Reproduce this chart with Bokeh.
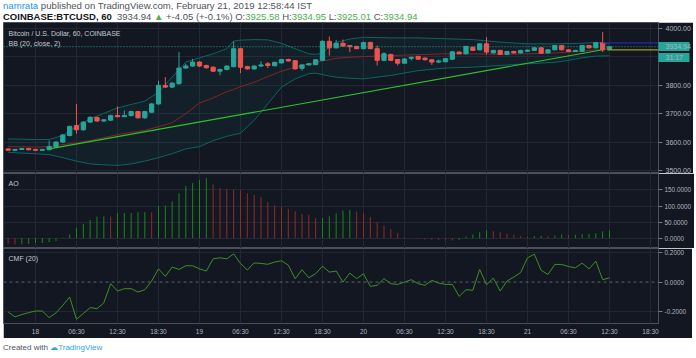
from bokeh.plotting import figure
from bokeh.models import (Range1d, FixedTicker, PrintfTickFormatter, Label, Span, Div, Grid,
                          AllLabels)
from bokeh.layouts import column
from bokeh.embed import file_html
from bokeh.resources import INLINE

# ---------------- data ----------------
BAR_INDEX = list(range(-4, 85))   # hourly bars, 0 = 18 Feb 00:30 IST
OPEN = [3576, 3571, 3574, 3577, 3574, 3571, 3573, 3583, 3600, 3623, 3658, 3643, 3670, 3686, 3674, 3677,
        3693, 3689, 3693, 3707, 3685, 3705, 3734, 3799, 3793, 3805, 3860, 3867, 3881, 3869, 3863, 3849,
        3855, 3865, 3928, 3865, 3857, 3867, 3875, 3868, 3878, 3890, 3886, 3859, 3871, 3872, 3887, 3954,
        3931, 3947, 3939, 3936, 3928, 3950, 3928, 3887, 3908, 3890, 3877, 3894, 3901, 3895, 3889, 3881,
        3882, 3891, 3916, 3910, 3933, 3924, 3945, 3913, 3922, 3908, 3918, 3913, 3919, 3922, 3931, 3913,
        3924, 3939, 3924, 3918, 3919, 3939, 3931, 3949, 3925.58]
HIGH = [3578, 3576, 3579, 3579, 3576, 3576, 3605, 3603, 3628, 3658, 3734, 3673, 3690, 3689, 3681, 3696,
        3725, 3711, 3710, 3710, 3709, 3737, 3816, 3828, 3810, 3916, 3875, 3892, 3884, 3872, 3866, 3858,
        3869, 3954, 3931, 3868, 3869, 3884, 3881, 3882, 3892, 3893, 3888, 3873, 3877, 3891, 3957, 3971,
        3959, 3960, 3941, 3938, 3952, 3952, 3939, 3916, 3910, 3892, 3894, 3900, 3903, 3897, 3891, 3890,
        3895, 3919, 3918, 3938, 3935, 3947, 3968, 3924, 3924, 3920, 3921, 3924, 3925, 3933, 3933, 3926,
        3941, 3941, 3926, 3924, 3941, 3941, 3951, 3986, 3934.95]
LOW = [3569, 3569, 3572, 3571, 3569, 3570, 3571, 3580, 3597, 3620, 3629, 3640, 3667, 3671, 3670, 3674,
       3687, 3688, 3690, 3683, 3682, 3702, 3730, 3790, 3790, 3802, 3857, 3864, 3864, 3858, 3846, 3834,
       3852, 3862, 3842, 3854, 3854, 3865, 3860, 3866, 3876, 3883, 3855, 3851, 3869, 3870, 3885, 3904,
       3929, 3935, 3916, 3926, 3926, 3926, 3869, 3884, 3885, 3869, 3875, 3887, 3889, 3887, 3871, 3877,
       3880, 3889, 3908, 3908, 3920, 3922, 3908, 3911, 3906, 3906, 3911, 3911, 3917, 3920, 3910, 3911,
       3922, 3922, 3916, 3917, 3917, 3929, 3929, 3916, 3925.01]
CLOSE = [3571, 3574, 3577, 3573, 3571, 3574, 3584, 3600, 3625, 3655, 3643, 3670, 3687, 3674, 3678, 3693,
         3689, 3693, 3707, 3685, 3707, 3734, 3799, 3793, 3807, 3860, 3867, 3881, 3867, 3861, 3849, 3855,
         3867, 3928, 3863, 3857, 3867, 3871, 3869, 3880, 3890, 3885, 3857, 3871, 3875, 3889, 3954, 3931,
         3947, 3937, 3935, 3928, 3950, 3928, 3887, 3910, 3887, 3877, 3892, 3898, 3891, 3889, 3881, 3885,
         3893, 3917, 3910, 3936, 3922, 3945, 3916, 3922, 3908, 3918, 3913, 3922, 3923, 3931, 3912, 3924,
         3939, 3924, 3918, 3922, 3939, 3931, 3949, 3924, 3934.94]

BB_INDEX = [-4, -2, 0, 2, 4, 6, 8, 10, 12, 14, 16, 18, 20, 22, 24, 26, 28, 29, 30, 32, 34, 36, 38, 40,
            41, 42, 43, 44, 46, 48, 52, 56, 60, 64, 68, 72, 76, 78, 80, 82, 84]
BB_UPPER = [3611, 3610, 3609, 3609, 3623, 3655, 3682, 3701, 3720, 3732, 3744, 3775, 3828, 3881, 3896,
            3910, 3928, 3955, 3958, 3960, 3959, 3947, 3928, 3910, 3908, 3912, 3935, 3950, 3962, 3968,
            3966, 3966, 3963, 3960, 3951, 3945, 3945, 3946, 3947, 3950, 3945]
BB_BASIS = [3584, 3583, 3582, 3584, 3591, 3597, 3605, 3615, 3626, 3634, 3641, 3654, 3668, 3700, 3737,
            3755, 3777, 3785, 3794, 3810, 3830, 3849, 3863, 3875, 3880, 3885, 3889, 3894, 3898, 3900,
            3904, 3907, 3910, 3910, 3908, 3910, 3913, 3916, 3919, 3924, 3927]
BB_LOWER = [3564, 3561, 3559, 3556, 3545, 3533, 3523, 3520, 3518, 3523, 3533, 3545, 3559, 3576, 3584,
            3605, 3620, 3626, 3631, 3676, 3734, 3793, 3822, 3840, 3842, 3837, 3832, 3828, 3824, 3822,
            3834, 3851, 3860, 3863, 3869, 3875, 3880, 3887, 3896, 3902, 3903]

TREND_X = [2, 83]            # drawn trend line
TREND_Y = [3576, 3924]
LEVEL_X = [83, 83.7]         # horizontal drawing rays
LEVEL_Y = [3948.6, 3924.0]

AO = [-17.6, -19.7, -19.0, -17.6, -15.5, -15.0, -12.4, -9.3, 1.5, 11.4, 32.0, 44.5, 57.0, 67.0, 68.3,
      67.5, 77.6, 78.0, 78.5, 80.7, 81.5, 80.0, 99.4, 101.4, 113.9, 139.8, 161.5, 171.8, 181.2, 186.3,
      166.7, 156.3, 153.2, 151.1, 150.0, 139.8, 134.6, 127.3, 111.8, 101.4, 98.3, 91.1, 83.9, 75.6, 72.5,
      62.1, 63.0, 68.3, 77.6, 86.0, 88.0, 82.8, 77.6, 65.2, 49.7, 39.3, 29.0, 16.6, 3.0, -1.0, -2.0,
      -4.0, -4.5, -5.2, -5.5, -7.0, -5.0, 5.0, 11.4, 18.6, 23.8, 21.7, 18.6, 13.5, 10.4, 6.2, 4.0, 6.0,
      7.2, 6.2, 8.3, 11.4, 10.4, 10.8, 12.4, 12.6, 15.5, 21.7, 23.8]

CMF = [-0.203, -0.237, -0.221, -0.208, -0.197, -0.197, -0.242, -0.210, -0.158, -0.102, -0.253, -0.214,
       -0.174, -0.181, -0.142, -0.011, -0.061, -0.045, -0.045, -0.068, -0.052, 0.007, 0.090, 0.039,
       0.102, 0.086, 0.111, 0.111, 0.090, 0.075, 0.158, 0.165, 0.158, 0.192, 0.126, 0.082, 0.130,
       0.127, 0.121, 0.136, 0.145, 0.115, 0.023, 0.084, 0.029, 0.057, 0.108, 0.068, 0.075, 0.000,
       0.061, 0.023, 0.057, -0.029, -0.022, 0.023, -0.011, -0.016, 0.000, 0.016, -0.011, -0.022, 0.012,
       -0.007, -0.016, -0.016, -0.097, -0.052, -0.056, 0.086, -0.018, 0.027, -0.061, 0.007, 0.034,
       0.065, 0.165, 0.190, 0.080, 0.052, 0.120, 0.120, 0.106, 0.097, 0.129, 0.090, 0.142, 0.016, 0.029]

X_TICKS = [0, 6, 12, 18, 24, 30, 36, 42, 48, 54, 60, 66, 72, 78, 84, 90]
X_LABELS = ["18", "06:30", "12:30", "18:30", "19", "06:30", "12:30", "18:30",
            "20", "06:30", "12:30", "18:30", "21", "06:30", "12:30", "18:30"]
PRICE_TICKS = [3500, 3600, 3700, 3800, 3900, 4000]
PRICE_LABELLED = [3500, 3600, 3700, 3800, 4000]      # 3900 label hidden under the countdown tag
TAG_TICKS = [CLOSE[-1], 3898.1]                       # last price tag, countdown tag
TAG_LABELS = ["%.2f" % CLOSE[-1], "31:17"]
AO_TICKS = [0, 50, 100, 150]
CMF_TICKS = [-0.2, 0.0, 0.2]
CMF_GRID = [-0.2, 0.2]

# ---------------- style / layout ----------------
BG = "#131722"
GRID = "#232733"
SEP = "#4c505b"
AXT = "#b2b5be"
PANE_TXT = "#c5c8d0"
UP = "#26a69a"
DN = "#ef5350"
FONT = "Liberation Sans"

XMIN, XMAX = -4.68, 91.17
FW = 655
RB = 34
H_HEAD, H_MAIN, H_AO, H_CMF, H_TAX, H_FOOT = 22, 151, 75, 75, 15, 20
P_RANGE = (3489.5, 4020.0)
AO_RANGE = (-32.0, 201.0)
CMF_RANGE = (-0.282, 0.2285)
DPX = (XMAX - XMIN) / FW
MARGIN = (0, 0, 0, 3)
TAG_LEN = 31

xr = Range1d(XMIN, XMAX)


def make_fig(h, yr, bottom=0, xaxis=False, standoff=3):
    p = figure(frame_width=FW, frame_height=h, x_range=xr, y_range=Range1d(*yr),
               output_backend="svg", toolbar_location=None, title=None, margin=MARGIN,
               x_axis_location=("below" if xaxis else None), y_axis_location="right",
               min_border_left=0, min_border_right=RB, min_border_top=0, min_border_bottom=bottom,
               background_fill_color=BG, border_fill_color=BG, outline_line_color=SEP,
               outline_line_width=1)
    p.grid.visible = False
    p.add_layout(Grid(dimension=0, ticker=FixedTicker(ticks=X_TICKS), grid_line_color=GRID))
    ax = p.yaxis[0]
    ax.axis_line_color = None
    ax.major_tick_out = 4
    ax.major_tick_in = 0
    ax.minor_tick_line_color = None
    ax.major_tick_line_color = "#787b86"
    ax.major_label_text_color = AXT
    ax.major_label_text_font = FONT
    ax.major_label_standoff = standoff
    ax.major_label_policy = AllLabels()
    return p


def pane_label(p, text, yr, h, px_down, size="7px"):
    dpy = (yr[1] - yr[0]) / h
    p.add_layout(Label(x=XMIN + 5 * DPX, y=yr[1] - px_down * dpy, text=text, text_font=FONT,
                       text_font_size=size, text_color=PANE_TXT, text_baseline="middle"))


# ---- main price pane ----
p1 = make_fig(H_MAIN, P_RANGE)
pax = p1.yaxis[0]
# tags drawn as thick teal minor ticks, their texts as tick labels
pax.ticker = FixedTicker(ticks=PRICE_LABELLED + TAG_TICKS, minor_ticks=TAG_TICKS)
pax.formatter = PrintfTickFormatter(format="%.2f")
pax.major_label_overrides = {TAG_TICKS[1]: TAG_LABELS[1]}
pax.major_label_text_font_size = "7px"
pax.minor_tick_line_color = UP
pax.minor_tick_line_width = 9
pax.minor_tick_in = 0
pax.minor_tick_out = TAG_LEN
pax.major_label_standoff = 7 - TAG_LEN     # labels sit 7px right of the axis line
p1.add_layout(Grid(dimension=1, ticker=FixedTicker(ticks=PRICE_TICKS), grid_line_color=GRID))

p1.varea(x=BB_INDEX, y1=BB_LOWER, y2=BB_UPPER, fill_color="#198787", fill_alpha=0.09)
p1.line(BB_INDEX, BB_UPPER, line_color="#0b6660", line_width=1)
p1.line(BB_INDEX, BB_LOWER, line_color="#0b6660", line_width=1)
p1.line(BB_INDEX, BB_BASIS, line_color="#872323", line_width=1)

up = [c >= o for o, c in zip(OPEN, CLOSE)]
ccol = [UP if u else DN for u in up]
p1.segment(x0=BAR_INDEX, y0=LOW, x1=BAR_INDEX, y1=HIGH, line_color=ccol, line_width=1)
p1.vbar(x=BAR_INDEX, width=0.62, top=[max(o, c) for o, c in zip(OPEN, CLOSE)],
        bottom=[min(o, c) for o, c in zip(OPEN, CLOSE)], fill_color=ccol, line_color=ccol, line_width=1)

p1.line(TREND_X, TREND_Y, line_color="#2ec22e", line_width=1.1)
p1.ray(x=[LEVEL_X[0]], y=[LEVEL_Y[0]], length=0, angle=0, line_color="#1d2bb0", line_width=1.2)
p1.ray(x=[LEVEL_X[1]], y=[LEVEL_Y[1]], length=0, angle=0, line_color="#a89a22", line_width=1.2)
p1.add_layout(Span(location=CLOSE[-1], dimension="width", line_color=UP, line_dash="1 2",
                   line_width=1))

pane_label(p1, "Bitcoin / U.S. Dollar, 60, COINBASE", P_RANGE, H_MAIN, 11)
pane_label(p1, "BB (20, close, 2)", P_RANGE, H_MAIN, 20.5)

# ---- AO pane ----
p2 = make_fig(H_AO, AO_RANGE, standoff=2)
p2.yaxis.ticker = FixedTicker(ticks=AO_TICKS)
p2.yaxis.formatter = PrintfTickFormatter(format="%.4f")
p2.yaxis.major_label_text_font_size = "6.4px"
p2.add_layout(Grid(dimension=1, ticker=FixedTicker(ticks=AO_TICKS), grid_line_color=GRID))
ao_up = [False] + [AO[k] >= AO[k - 1] for k in range(1, len(AO))]
p2.segment(x0=BAR_INDEX, y0=[0] * len(AO), x1=BAR_INDEX, y1=AO,
           line_color=["#168a16" if u else "#8f2b2b" for u in ao_up], line_width=1)
pane_label(p2, "AO", AO_RANGE, H_AO, 9.5)

# ---- CMF pane ----
p3 = make_fig(H_CMF, CMF_RANGE, bottom=H_TAX, xaxis=True, standoff=2)
p3.yaxis.ticker = FixedTicker(ticks=CMF_TICKS)
p3.yaxis.formatter = PrintfTickFormatter(format="%.4f")
p3.yaxis.major_label_text_font_size = "6.4px"
p3.add_layout(Grid(dimension=1, ticker=FixedTicker(ticks=CMF_GRID), grid_line_color=GRID))
p3.add_layout(Span(location=CMF_TICKS[1], dimension="width", line_color="#5d606b",
                   line_dash="3 3", line_width=1))
p3.line(BAR_INDEX, CMF, line_color="#3f8f24", line_width=1)
pane_label(p3, "CMF (20)", CMF_RANGE, H_CMF, 10)
xa = p3.xaxis[0]
xa.ticker = FixedTicker(ticks=X_TICKS)
xa.major_label_overrides = {t: l for t, l in zip(X_TICKS, X_LABELS)}
xa.axis_line_color = None
xa.major_tick_out = 0
xa.major_tick_in = 0
xa.minor_tick_line_color = None
xa.major_label_text_color = AXT
xa.major_label_text_font = FONT
xa.major_label_text_font_size = "6.5px"
xa.major_label_standoff = 4

# ---- header / footer ----
G = "#4caf50"
header_html = (
    '<div style="font-family:\'Liberation Sans\',sans-serif;line-height:11px;'
    'color:#50535e;white-space:nowrap">'
    '<div style="font-size:9.6px"><span style="color:#2196f3">namrata</span> published on '
    'TradingView.com, February 21, 2019 12:58:44 IST</div>'
    '<div style="font-size:9.5px"><b style="color:#131722">COINBASE:BTCUSD, 60</b>&nbsp; 3934.94 '
    '<span style="color:G_">&#9650;</span> +-4.05 (+-0.1%) '
    'O:<span style="color:G_">3925.58</span> H:<span style="color:G_">3934.95</span> '
    'L:<span style="color:G_">3925.01</span> C:<span style="color:G_">3934.94</span></div></div>'
).replace("G_", G)
header = Div(width=689, height=H_HEAD, margin=MARGIN, text=header_html)
footer = Div(width=689, height=H_FOOT, margin=MARGIN, text=(
    '<div style="font-family:\'Liberation Sans\',sans-serif;font-size:8px;line-height:20px;'
    'color:#50535e;white-space:nowrap">Created with '
    '<span style="color:#2fa4e7">&#9729;TradingView</span></div>'))

layout = column(header, p1, p2, p3, footer, spacing=0)
open("out.html", "w").write(file_html(layout, INLINE))
